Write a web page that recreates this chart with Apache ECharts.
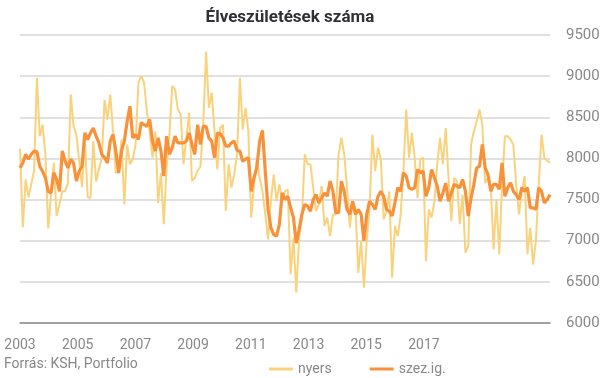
<!DOCTYPE html>
<html>
<head>
<meta charset="utf-8">
<script src="https://cdn.jsdelivr.net/npm/echarts@6/dist/echarts.min.js"></script>
<style>
  html, body { margin: 0; padding: 0; background: #fff; }
  #chart { width: 605px; height: 378px; }
</style>
</head>
<body>
<div id="chart"></div>
<script>
// havi adatok 2003-01 .. 2018-09
var months = [];
for (var y = 2003; y <= 2018; y++) {
  for (var m = 1; m <= 12; m++) {
    if (y === 2018 && m > 9) break;
    months.push(y + '-' + (m < 10 ? '0' + m : m));
  }
}

var yearLabels = ['2003', '2005', '2007', '2009', '2011', '2013', '2015', '2017'];

// nyers (havi élveszületések)
var nyers = [
  8120, 7165, 7745, 7530, 7690, 7850, 8980, 8270, 8410, 8050, 7150, 7550,
  7950, 7300, 7440, 7600, 7600, 7700, 8780, 8390, 8290, 7970, 7650, 8220,
  7530, 7520, 8210, 7720, 7870, 8000, 8710, 8470, 8780, 8330, 7825, 7825,
  8230, 7440, 8170, 7930, 7990, 8170, 8920, 9000, 8920, 8575, 8330, 8010,
  8330, 7460, 7825, 7200, 7890, 8290, 8880, 8840, 8595, 8535, 7930, 8250,
  8555, 7725, 7765, 7850, 7900, 8410, 9300, 8615, 8800, 8330, 7865, 8370,
  8410, 7360, 7930, 7645, 7805, 8050, 8980, 8350, 8615, 8330, 7280, 7685,
  7990, 7765, 7600, 7320, 7015, 7480, 7805, 7480, 7685, 7480, 7600, 7620,
  6590, 7035, 6370, 7035, 7280, 8050, 7930, 7930, 7645, 7360, 7440, 7665,
  7180, 7280, 7055, 7320, 7320, 8050, 8250, 8050, 7645, 7160, 7480, 7400,
  6610, 7000, 6430, 7000, 7400, 8290, 7845, 8130, 7990, 7260, 7360, 7600,
  6550, 7180, 7055, 7300, 7845, 8595, 8010, 8310, 8010, 7520, 7990, 8010,
  6750, 7380, 7280, 7480, 7930, 8250, 7930, 8370, 7765, 7240, 7765, 7725,
  7200, 7560, 6855, 6935, 8170, 8330, 8450, 8595, 8410, 7700, 7765, 7645,
  6895, 7500, 6835, 7685, 8270, 8270, 8230, 8170, 7685, 7320, 7600, 7785,
  6835, 7160, 6710, 7000, 7685, 8290, 8010, 7970, 7950
];

// szezonálisan igazított
var szezIg = [
  7885, 7945, 8050, 7990, 8050, 8090, 8080, 7905, 7845, 7765, 7600, 7580,
  7825, 7745, 7600, 8090, 7970, 7885, 7990, 7945, 7725, 7845, 7905, 8310,
  8230, 8310, 8370, 8270, 8190, 8050, 8010, 7945, 8210, 8290, 8090, 7825,
  8090, 8210, 8450, 8635, 8250, 8290, 8230, 8435, 8410, 8390, 8475, 8210,
  8090, 8250, 8090, 7785, 8270, 8050, 8130, 8270, 8190, 8190, 8190, 8210,
  8310, 8170, 8050, 8410, 8170, 8390, 8390, 8250, 8210, 8010, 8310, 8300,
  8250, 8150, 8150, 8190, 8210, 8095, 8090, 7965, 7990, 8010, 7600, 7765,
  7885, 8210, 8340, 7845, 7380, 7160, 7075, 7055, 7200, 7580, 7500, 7540,
  7400, 7280, 6970, 7135, 7320, 7440, 7420, 7360, 7500, 7560, 7460, 7520,
  7580, 7540, 7725, 7600, 7340, 7340, 7725, 7600, 7380, 7320, 7480, 7320,
  7380, 7320, 7000, 7320, 7480, 7440, 7380, 7540, 7600, 7540, 7380, 7360,
  7300, 7460, 7645, 7600, 7825, 7785, 7645, 7625, 7645, 7865, 7825, 7845,
  7540, 7645, 7865, 7765, 7665, 7480, 7580, 7700, 7480, 7580, 7685, 7665,
  7645, 7745, 7600, 7300, 7520, 7685, 7885, 7905, 8170, 7885, 7805, 7600,
  7685, 7685, 7625, 7945, 7540, 7645, 7705, 7600, 7560, 7500, 7645, 7600,
  7645, 7400, 7400, 7380, 7645, 7600, 7460, 7500, 7560
];

var myChart = echarts.init(document.getElementById('chart'));

var option = {
  backgroundColor: '#fff',
  animation: false,
  textStyle: { fontFamily: 'Roboto' },
  title: {
    text: 'Élveszületések száma',
    left: 285,
    textAlign: 'center',
    top: 4,
    textStyle: { color: '#2f2f35', fontSize: 17, fontWeight: 'bold', fontFamily: 'Roboto' }
  },
  grid: { left: 20, right: 55, top: 35, bottom: 55, containLabel: false },
  legend: {
    left: 264,
    top: 357,
    itemWidth: 24,
    itemHeight: 3,
    itemGap: 38,
    textStyle: { color: '#888', fontSize: 14 },
    data: [
      { name: 'nyers', icon: 'rect', itemStyle: { color: '#F8D27D' } },
      { name: 'szez.ig.', icon: 'rect', itemStyle: { color: '#F7923B' } }
    ]
  },
  graphic: [{
    type: 'text',
    left: 4,
    top: 357,
    style: { text: 'Forrás: KSH, Portfolio', fill: '#888', font: '14px Roboto' }
  }],
  xAxis: [
    {
      type: 'category',
      data: months,
      boundaryGap: false,
      axisLine: { show: true, lineStyle: { color: '#8a8a8a', width: 1.5 } },
      axisTick: { show: false },
      axisLabel: { show: false },
      splitLine: { show: false }
    },
    {
      // évszám-feliratok (kétévente)
      type: 'value',
      position: 'bottom',
      min: 0,
      max: 9.185,
      interval: 1,
      axisLine: { show: false },
      axisTick: { show: false },
      splitLine: { show: false },
      axisLabel: {
        color: '#888',
        fontSize: 14,
        margin: 15,
        showMaxLabel: false,
        formatter: function (v) {
          return yearLabels[Math.round(v)] || '';
        }
      }
    }
  ],
  yAxis: {
    type: 'value',
    position: 'right',
    min: 6000,
    max: 9500,
    interval: 500,
    axisLine: { show: false },
    axisTick: { show: false },
    axisLabel: {
      color: '#888',
      fontSize: 15,
      margin: 16,
      formatter: function (v) { return String(v); }
    },
    splitLine: { lineStyle: { color: '#d6d6d6', width: 1.5 } }
  },
  series: [
    {
      name: 'nyers',
      type: 'line',
      data: nyers,
      showSymbol: false,
      symbol: 'none',
      lineStyle: { color: '#F8D27D', width: 2 },
      itemStyle: { color: '#F8D27D' }
    },
    {
      name: 'szez.ig.',
      type: 'line',
      data: szezIg,
      showSymbol: false,
      symbol: 'none',
      lineStyle: { color: '#F7923B', width: 3.2 },
      itemStyle: { color: '#F7923B' }
    }
  ]
};

myChart.setOption(option);
</script>
</body>
</html>
